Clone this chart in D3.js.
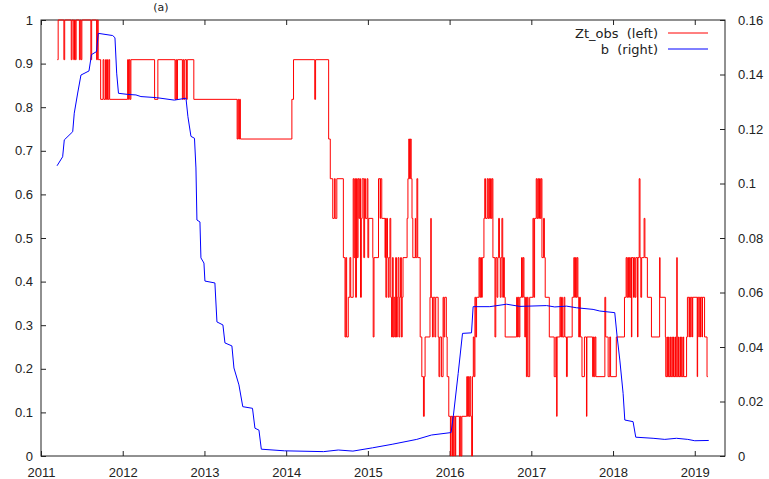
<!DOCTYPE html>
<html>
<head>
<style>
  body {
    margin: 0;
    background-color: #fff;
  }

  svg {
    display: block;
    font-family: "DejaVu Sans", Verdana, sans-serif;
  }

  .tick text {
    font-size: 13px;
    fill: #222;
  }

  .legend text {
    font-size: 13px;
    fill: #222;
    white-space: pre;
  }
</style>
  <script src="https://d3js.org/d3.v7.min.js"></script>
</head>
<body>
<script>
  // x axis ticks (years) and y ticks for both axes
  const yearTicks = [2011, 2012, 2013, 2014, 2015, 2016, 2017, 2018, 2019];
  const leftTicks = [0, 0.1, 0.2, 0.3, 0.4, 0.5, 0.6, 0.7, 0.8, 0.9, 1];
  const rightTicks = [0, 0.02, 0.04, 0.06, 0.08, 0.1, 0.12, 0.14, 0.16];

  const seriesNames = ['Zt_obs  (left)', 'b  (right)'];

  // Zt_obs: [decimal year, value], a step series (left axis)
  const ztObs = [
    [2011.20, 0.909], [2011.21, 1], [2011.28, 0.909], [2011.29, 1], [2011.37, 0.909], [2011.38, 1],
    [2011.40, 0.909], [2011.41, 1], [2011.42, 0.909], [2011.43, 1], [2011.47, 0.909], [2011.48, 1],
    [2011.49, 0.909], [2011.50, 1], [2011.61, 0.909], [2011.62, 1], [2011.68, 0.909], [2011.69, 1],
    [2011.70, 0.909], [2011.73, 0.818], [2011.76, 0.909], [2011.77, 0.818], [2011.79, 0.909],
    [2011.80, 0.818], [2011.81, 0.909], [2011.815, 0.818], [2011.83, 0.909], [2011.84, 0.818],
    [2012.06, 0.909], [2012.07, 0.818], [2012.08, 0.909], [2012.09, 0.818], [2012.10, 0.909],
    [2012.39, 0.818], [2012.43, 0.909], [2012.64, 0.818], [2012.65, 0.909], [2012.66, 0.818],
    [2012.67, 0.909], [2012.73, 0.818], [2012.74, 0.909], [2012.75, 0.818], [2012.76, 0.909],
    [2012.78, 0.818], [2012.79, 0.909], [2012.87, 0.818],
    [2013.40, 0.727], [2013.41, 0.818], [2013.42, 0.727], [2013.43, 0.818], [2013.44, 0.727],
    [2014.07, 0.818], [2014.09, 0.909], [2014.35, 0.818], [2014.36, 0.909], [2014.52, 0.727],
    [2014.54, 0.636], [2014.57, 0.545], [2014.59, 0.636], [2014.60, 0.545], [2014.62, 0.636],
    [2014.70, 0.455], [2014.72, 0.273], [2014.73, 0.455], [2014.74, 0.273], [2014.76, 0.364],
    [2014.78, 0.455], [2014.79, 0.364], [2014.82, 0.636], [2014.83, 0.455], [2014.84, 0.636],
    [2014.85, 0.364], [2014.86, 0.636], [2014.87, 0.455], [2014.88, 0.636], [2014.89, 0.545],
    [2014.90, 0.636], [2014.91, 0.364], [2014.92, 0.545], [2014.93, 0.636], [2014.95, 0.455],
    [2014.96, 0.636], [2014.97, 0.545], [2014.99, 0.636], [2015.00, 0.455], [2015.01, 0.545],
    [2015.06, 0.455], [2015.065, 0.273], [2015.075, 0.455], [2015.13, 0.636], [2015.15, 0.545],
    [2015.155, 0.636], [2015.17, 0.545], [2015.21, 0.455], [2015.215, 0.545], [2015.22, 0.364],
    [2015.23, 0.545], [2015.24, 0.455], [2015.25, 0.364], [2015.26, 0.455], [2015.27, 0.545],
    [2015.28, 0.364], [2015.29, 0.273], [2015.30, 0.455], [2015.31, 0.273], [2015.32, 0.364],
    [2015.33, 0.273], [2015.34, 0.455], [2015.35, 0.273], [2015.36, 0.364], [2015.37, 0.455],
    [2015.38, 0.273], [2015.39, 0.364], [2015.40, 0.455], [2015.41, 0.273], [2015.42, 0.364],
    [2015.43, 0.455], [2015.48, 0.545], [2015.49, 0.636], [2015.50, 0.727], [2015.51, 0.636],
    [2015.52, 0.727], [2015.53, 0.636], [2015.54, 0.545], [2015.55, 0.455], [2015.58, 0.545],
    [2015.585, 0.455], [2015.60, 0.636], [2015.61, 0.455], [2015.64, 0.273], [2015.66, 0.182],
    [2015.68, 0.091], [2015.69, 0.182], [2015.70, 0.273], [2015.76, 0.364], [2015.77, 0.545],
    [2015.775, 0.364], [2015.79, 0.273], [2015.80, 0.364], [2015.82, 0.273], [2015.83, 0.364],
    [2015.86, 0.273], [2015.87, 0.182], [2015.88, 0.273], [2015.90, 0.182], [2015.92, 0.364],
    [2015.93, 0.273], [2015.94, 0.364], [2015.96, 0.273], [2015.97, 0.182], [2015.99, 0.091],
    [2016.01, 0], [2016.015, 0.091], [2016.03, 0], [2016.035, 0.091], [2016.05, 0],
    [2016.055, 0.091], [2016.07, 0], [2016.075, 0.091], [2016.12, 0], [2016.13, 0.091],
    [2016.14, 0], [2016.15, 0.091], [2016.21, 0.182], [2016.22, 0.091], [2016.23, 0.182],
    [2016.24, 0.091], [2016.25, 0.182], [2016.26, 0.091], [2016.27, 0], [2016.28, 0.182],
    [2016.29, 0.273], [2016.30, 0.182], [2016.31, 0.364], [2016.32, 0.273], [2016.33, 0.364],
    [2016.36, 0.455], [2016.37, 0.364], [2016.38, 0.455], [2016.39, 0.364], [2016.40, 0.455],
    [2016.42, 0.545], [2016.43, 0.636], [2016.44, 0.545], [2016.46, 0.636], [2016.47, 0.545],
    [2016.48, 0.636], [2016.49, 0.545], [2016.50, 0.636], [2016.51, 0.545], [2016.52, 0.636],
    [2016.53, 0.455], [2016.555, 0.273], [2016.565, 0.455], [2016.58, 0.364], [2016.59, 0.455],
    [2016.60, 0.545], [2016.61, 0.455], [2016.62, 0.364], [2016.63, 0.455], [2016.64, 0.545],
    [2016.65, 0.364], [2016.66, 0.455], [2016.67, 0.364], [2016.68, 0.273],
    [2016.82, 0.364], [2016.83, 0.273], [2016.84, 0.364], [2016.85, 0.273], [2016.86, 0.364],
    [2016.88, 0.455], [2016.89, 0.364], [2016.90, 0.455], [2016.91, 0.364], [2016.92, 0.273],
    [2016.93, 0.364], [2016.94, 0.182], [2016.95, 0.364], [2016.96, 0.182], [2016.98, 0.364],
    [2017.02, 0.545], [2017.03, 0.364], [2017.04, 0.545], [2017.06, 0.636], [2017.07, 0.545],
    [2017.08, 0.636], [2017.09, 0.545], [2017.10, 0.636], [2017.11, 0.545], [2017.12, 0.636],
    [2017.13, 0.455], [2017.15, 0.545], [2017.16, 0.455], [2017.17, 0.364], [2017.22, 0.273],
    [2017.28, 0.182], [2017.30, 0.273], [2017.31, 0.091], [2017.315, 0.273], [2017.35, 0.364],
    [2017.36, 0.273], [2017.37, 0.364], [2017.38, 0.273], [2017.40, 0.364], [2017.41, 0.273],
    [2017.43, 0.182], [2017.44, 0.273], [2017.50, 0.364], [2017.52, 0.455], [2017.53, 0.364],
    [2017.54, 0.455], [2017.55, 0.364], [2017.56, 0.455], [2017.57, 0.364], [2017.58, 0.273],
    [2017.59, 0.364], [2017.60, 0.273], [2017.62, 0.182], [2017.65, 0.273], [2017.675, 0.091],
    [2017.68, 0.273], [2017.75, 0.182], [2017.76, 0.273], [2017.77, 0.182], [2017.78, 0.273],
    [2017.79, 0.182], [2017.90, 0.364], [2017.91, 0.273], [2017.94, 0.182], [2017.96, 0.273],
    [2017.97, 0.182], [2018.04, 0.273], [2018.14, 0.364], [2018.16, 0.455], [2018.17, 0.364],
    [2018.18, 0.455], [2018.19, 0.364], [2018.20, 0.455], [2018.21, 0.364], [2018.22, 0.455],
    [2018.225, 0.273], [2018.23, 0.455], [2018.25, 0.364], [2018.26, 0.455], [2018.27, 0.364],
    [2018.28, 0.455], [2018.30, 0.273], [2018.305, 0.455], [2018.32, 0.636], [2018.33, 0.455],
    [2018.34, 0.364], [2018.35, 0.455], [2018.38, 0.545], [2018.39, 0.455], [2018.42, 0.364],
    [2018.47, 0.273], [2018.57, 0.455], [2018.575, 0.364], [2018.64, 0.273], [2018.645, 0.182],
    [2018.66, 0.273], [2018.665, 0.182], [2018.68, 0.273], [2018.685, 0.182], [2018.70, 0.273],
    [2018.705, 0.182], [2018.72, 0.273], [2018.725, 0.182], [2018.74, 0.273], [2018.745, 0.182],
    [2018.76, 0.273], [2018.765, 0.182], [2018.78, 0.455], [2018.785, 0.182], [2018.80, 0.273],
    [2018.805, 0.182], [2018.82, 0.273], [2018.825, 0.182], [2018.84, 0.273], [2018.845, 0.182],
    [2018.86, 0.273], [2018.865, 0.182], [2018.90, 0.273], [2018.91, 0.364], [2018.93, 0.273],
    [2018.935, 0.364], [2018.95, 0.273], [2018.955, 0.364], [2018.97, 0.273], [2018.975, 0.364],
    [2019.03, 0.182], [2019.035, 0.364], [2019.05, 0.273], [2019.055, 0.364], [2019.07, 0.273],
    [2019.075, 0.364], [2019.09, 0.273], [2019.095, 0.364], [2019.12, 0.273], [2019.15, 0.182],
    [2019.16, 0.182],
  ];

  // b: [decimal year, value] (right axis)
  const bSeries = [
    [2011.196, 0.1065], [2011.265, 0.1098], [2011.285, 0.116], [2011.388, 0.119], [2011.407, 0.1258],
    [2011.449, 0.1332], [2011.489, 0.1398], [2011.587, 0.1413], [2011.618, 0.1473], [2011.679, 0.1484],
    [2011.701, 0.1551], [2011.877, 0.1543], [2011.905, 0.1535], [2011.926, 0.1405], [2011.948, 0.1331],
    [2012.061, 0.1327], [2012.162, 0.1325], [2012.223, 0.1319], [2012.415, 0.1315], [2012.631, 0.1306],
    [2012.774, 0.1313], [2012.798, 0.1245], [2012.835, 0.1173], [2012.878, 0.1166], [2012.896, 0.1057],
    [2012.908, 0.0866], [2012.945, 0.0859], [2012.957, 0.0727], [2012.994, 0.0708], [2013.006, 0.0642],
    [2013.128, 0.0635], [2013.153, 0.0492], [2013.226, 0.0481], [2013.251, 0.0415], [2013.336, 0.0404],
    [2013.361, 0.0323], [2013.422, 0.0261], [2013.469, 0.0181], [2013.588, 0.0175], [2013.618, 0.0102],
    [2013.667, 0.0095], [2013.696, 0.0025], [2013.979, 0.0019], [2014.458, 0.0016], [2014.638, 0.0022],
    [2014.817, 0.0018], [2015.057, 0.003], [2015.297, 0.0043], [2015.598, 0.0061], [2015.778, 0.0077],
    [2016.018, 0.0086], [2016.047, 0.015], [2016.105, 0.0303], [2016.158, 0.045], [2016.268, 0.0452],
    [2016.288, 0.0548], [2016.492, 0.0548], [2016.697, 0.0557], [2016.859, 0.0549], [2017.186, 0.0552],
    [2017.287, 0.0547], [2017.431, 0.055], [2017.553, 0.0544], [2017.756, 0.0538], [2017.838, 0.0532],
    [2018.021, 0.0526], [2018.05, 0.0438], [2018.083, 0.0352], [2018.123, 0.023], [2018.144, 0.0132],
    [2018.245, 0.0126], [2018.278, 0.0069], [2018.49, 0.0065], [2018.633, 0.0061], [2018.776, 0.0065],
    [2018.914, 0.0061], [2019.0, 0.0056], [2019.171, 0.0057],
  ];

  const width = 769;
  const height = 479;
  const plot = { left: 41, right: 725, top: 20, bottom: 456 };

  const svg = d3.select('body')
    .append('svg')
    .attr('width', width)
    .attr('height', height);

  const x = d3.scaleLinear().domain([2011, 2019.37]).range([plot.left, plot.right]);
  const yLeft = d3.scaleLinear().domain([0, 1]).range([plot.bottom, plot.top]);
  const yRight = d3.scaleLinear().domain([0, 0.16]).range([plot.bottom, plot.top]);

  const fmt = (d) => String(+d.toFixed(2));

  // axes, ticks drawn inward like gnuplot
  svg.append('g')
    .attr('transform', `translate(0,${plot.bottom})`)
    .call(d3.axisBottom(x).tickValues(yearTicks).tickFormat(d3.format('d'))
      .tickSize(-5).tickSizeOuter(0).tickPadding(12));

  svg.append('g')
    .attr('transform', `translate(0,${plot.top})`)
    .call(d3.axisTop(x).tickValues(yearTicks).tickFormat('')
      .tickSize(-5).tickSizeOuter(0));

  svg.append('g')
    .attr('transform', `translate(${plot.left},0)`)
    .call(d3.axisLeft(yLeft).tickValues(leftTicks).tickFormat(fmt)
      .tickSize(-5).tickSizeOuter(0).tickPadding(8));

  svg.append('g')
    .attr('transform', `translate(${plot.right},0)`)
    .call(d3.axisRight(yRight).tickValues(rightTicks).tickFormat(fmt)
      .tickSize(-5).tickSizeOuter(0).tickPadding(13));

  svg.selectAll('.domain').remove();
  svg.selectAll('.tick line').attr('stroke', '#222');

  svg.append('rect')
    .attr('x', plot.left)
    .attr('y', plot.top)
    .attr('width', plot.right - plot.left)
    .attr('height', plot.bottom - plot.top)
    .attr('fill', 'none')
    .attr('stroke', '#222');

  // panel title above the frame
  svg.append('text')
    .attr('x', 161)
    .attr('y', 11)
    .attr('text-anchor', 'middle')
    .attr('font-size', 11)
    .attr('fill', '#222')
    .text('(a)');

  const ztLine = d3.line()
    .x(d => x(d[0]))
    .y(d => yLeft(d[1]))
    .curve(d3.curveStepAfter);

  const bLine = d3.line()
    .x(d => x(d[0]))
    .y(d => yRight(d[1]));

  svg.append('path')
    .datum(ztObs)
    .attr('fill', 'none')
    .attr('stroke', '#ff0000')
    .attr('stroke-width', 1)
    .attr('d', ztLine);

  svg.append('path')
    .datum(bSeries)
    .attr('fill', 'none')
    .attr('stroke', '#0000ff')
    .attr('stroke-width', 1)
    .attr('d', bLine);

  // legend
  const legendColors = ['#ff0000', '#0000ff'];
  const legend = svg.append('g').attr('class', 'legend');
  seriesNames.forEach((name, i) => {
    const ly = 33 + i * 16;
    legend.append('text')
      .attr('x', 658)
      .attr('y', ly + 5)
      .attr('text-anchor', 'end')
      .text(name);
    legend.append('line')
      .attr('x1', 668)
      .attr('x2', 708)
      .attr('y1', ly)
      .attr('y2', ly)
      .attr('stroke', legendColors[i]);
  });
</script>
</body>
</html>
